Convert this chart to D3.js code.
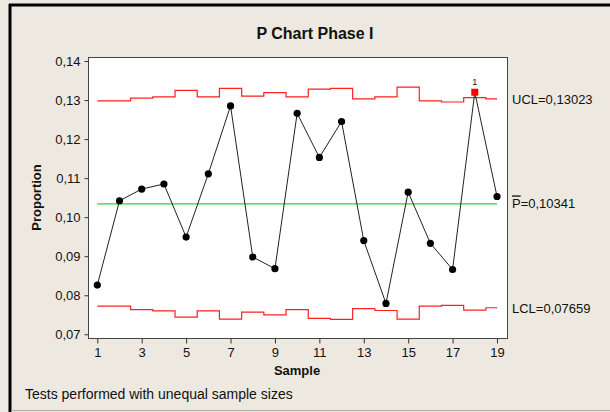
<!DOCTYPE html>
<html>
<head>
<meta charset="utf-8">
<script src="https://cdn.jsdelivr.net/npm/d3@7"></script>
<style>
  body { margin: 0; background: #fff; }
  svg text { font-family: "Liberation Sans", Arial, sans-serif; }
</style>
</head>
<body>
<div class="myBox"></div>
<script>
var width = 610;
var height = 412;

// data
var samples = [1, 2, 3, 4, 5, 6, 7, 8, 9, 10, 11, 12, 13, 14, 15, 16, 17, 18, 19];
var proportion = [0.0826, 0.1042, 0.1072, 0.1085, 0.0949, 0.1111, 0.1285, 0.0898, 0.0868, 0.1266,
                  0.1153, 0.1245, 0.0940, 0.0779, 0.1064, 0.0933, 0.0866, 0.1320, 0.1053];
var ucl = [0.1298, 0.1298, 0.1305, 0.1308, 0.1325, 0.1308, 0.1330, 0.1310, 0.1319, 0.1308,
           0.1328, 0.1330, 0.1303, 0.1308, 0.1333, 0.1298, 0.1295, 0.1306, 0.1303];
var lcl = [0.0772, 0.0772, 0.0763, 0.0760, 0.0744, 0.0760, 0.0739, 0.0757, 0.0750, 0.0763,
           0.0741, 0.0738, 0.0766, 0.0761, 0.0739, 0.0772, 0.0774, 0.0762, 0.0768];
var pbar = 0.10341, uclAll = 0.13023, lclAll = 0.07659;
var yTicks = [0.07, 0.08, 0.09, 0.10, 0.11, 0.12, 0.13, 0.14];
var xTicks = [1, 3, 5, 7, 9, 11, 13, 15, 17, 19];

var svg = d3.select(".myBox")
  .append("svg")
  .attr("width", width)
  .attr("height", height);

// background + outer frame
svg.append("rect").attr("width", width).attr("height", height).attr("fill", "#ede9e0");
svg.append("line").attr("x1", 9).attr("x2", width).attr("y1", 5).attr("y2", 5)
  .attr("stroke", "#000").attr("stroke-width", 3);
svg.append("line").attr("x1", 10).attr("x2", 10).attr("y1", 4).attr("y2", height)
  .attr("stroke", "#000").attr("stroke-width", 3);
svg.append("line").attr("x1", 11).attr("x2", width).attr("y1", 410.5).attr("y2", 410.5)
  .attr("stroke", "#b0aca4").attr("stroke-width", 1);

var plot = {left: 88, top: 57, right: 507, bottom: 338};

var x = d3.scaleLinear().domain([1, 19]).range([97.3, 497]);
var y = d3.scaleLinear().domain([0.07, 0.14]).range([334.3, 61]);

var loc = d3.formatLocale({decimal: ",", thousands: ".", grouping: [3], currency: ["", ""]});
var fmt = loc.format(".2f");

svg.append("rect")
  .attr("x", plot.left + 0.5).attr("y", plot.top + 0.5)
  .attr("width", plot.right - plot.left).attr("height", plot.bottom - plot.top)
  .attr("fill", "#fff").attr("stroke", "#444");

// axes
var yAxis = svg.append("g")
  .attr("transform", "translate(" + (plot.left + 0.5) + ",0)")
  .call(d3.axisLeft(y).tickValues(yTicks).tickFormat(fmt).tickSize(4).tickPadding(4));
var xAxis = svg.append("g")
  .attr("transform", "translate(0," + (plot.bottom + 0.5) + ")")
  .call(d3.axisBottom(x).tickValues(xTicks).tickSize(5).tickPadding(4));
[yAxis, xAxis].forEach(function(a) {
  a.select(".domain").remove();
  a.selectAll("line").attr("stroke", "#333");
  a.selectAll("text").attr("fill", "#111").style("font-size", "13px");
});

// control limits (step per sample)
var step = d3.line().curve(d3.curveStep)
  .x(function(d) { return x(d[0]); })
  .y(function(d) { return y(d[1]); });

svg.append("path")
  .datum(samples.map(function(s, i) { return [s, ucl[i]]; }))
  .attr("d", step).attr("fill", "none").attr("stroke", "#ff2020").attr("stroke-width", 1.2);
svg.append("path")
  .datum(samples.map(function(s, i) { return [s, lcl[i]]; }))
  .attr("d", step).attr("fill", "none").attr("stroke", "#ff2020").attr("stroke-width", 1.2);

svg.append("line")
  .attr("x1", x(1)).attr("x2", x(19))
  .attr("y1", y(pbar)).attr("y2", y(pbar))
  .attr("stroke", "#22dd22").attr("stroke-width", 1.2);

// data line
var pts = samples.map(function(s, i) { return {s: s, p: proportion[i], out: proportion[i] > ucl[i] || proportion[i] < lcl[i]}; });

svg.append("path")
  .datum(pts)
  .attr("d", d3.line().x(function(d) { return x(d.s); }).y(function(d) { return y(d.p); }))
  .attr("fill", "none").attr("stroke", "#222").attr("stroke-width", 1);

svg.selectAll("circle.pt")
  .data(pts.filter(function(d) { return !d.out; }))
  .enter().append("circle")
    .attr("class", "pt")
    .attr("cx", function(d) { return x(d.s); })
    .attr("cy", function(d) { return y(d.p); })
    .attr("r", 3.6)
    .attr("fill", "#000");

var outs = pts.filter(function(d) { return d.out; });
svg.selectAll("rect.out")
  .data(outs)
  .enter().append("rect")
    .attr("class", "out")
    .attr("x", function(d) { return x(d.s) - 3.5; })
    .attr("y", function(d) { return y(d.p) - 3.5; })
    .attr("width", 7).attr("height", 7)
    .attr("fill", "#ff0000");
svg.selectAll("text.outlab")
  .data(outs)
  .enter().append("text")
    .attr("class", "outlab")
    .attr("x", function(d) { return x(d.s); })
    .attr("y", function(d) { return y(d.p) - 7; })
    .attr("text-anchor", "middle")
    .style("font-size", "9px")
    .attr("fill", "#111")
    .text("1");

// limit labels
var labX = 512;
svg.append("text").attr("x", labX).attr("y", y(uclAll)).attr("dy", "0.35em")
  .style("font-size", "13px").attr("fill", "#111").text("UCL=" + loc.format(".5f")(uclAll));
var pl = svg.append("text").attr("x", labX).attr("y", y(pbar)).attr("dy", "0.35em")
  .style("font-size", "13px").attr("fill", "#111");
pl.append("tspan").style("text-decoration", "overline").text("P");
pl.append("tspan").text("=" + loc.format(".5f")(pbar));
svg.append("text").attr("x", labX).attr("y", y(lclAll)).attr("dy", "0.35em")
  .style("font-size", "13px").attr("fill", "#111").text("LCL=" + loc.format(".5f")(lclAll));

// titles
svg.append("text").attr("x", 315).attr("y", 39).attr("text-anchor", "middle")
  .style("font-size", "16px").style("font-weight", "bold").attr("fill", "#111")
  .text("P Chart Phase I");
svg.append("text").attr("x", 297).attr("y", 375).attr("text-anchor", "middle")
  .style("font-size", "13px").style("font-weight", "bold").attr("fill", "#111")
  .text("Sample");
svg.append("text")
  .attr("transform", "translate(41," + ((plot.top + plot.bottom) / 2) + ") rotate(-90)")
  .attr("text-anchor", "middle")
  .style("font-size", "13px").style("font-weight", "bold").attr("fill", "#111")
  .text("Proportion");
svg.append("text").attr("x", 25).attr("y", 399)
  .style("font-size", "14px").attr("fill", "#111")
  .text("Tests performed with unequal sample sizes");
</script>
</body>
</html>
